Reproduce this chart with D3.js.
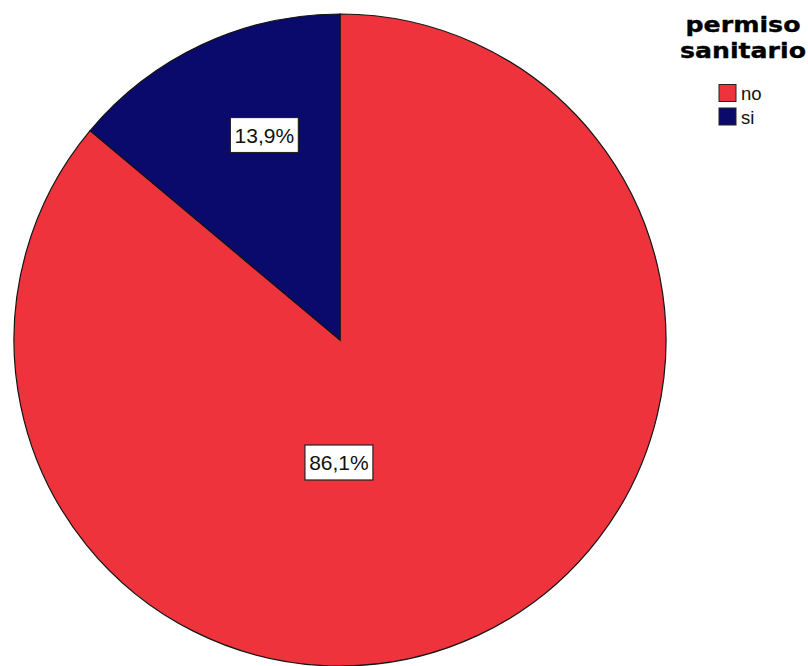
<!DOCTYPE html>
<html>
<head>
<meta charset="utf-8">
<script src="https://cdn.jsdelivr.net/npm/d3@7"></script>
<style>
  html, body { margin: 0; padding: 0; background: #ffffff; }
  svg { display: block; }
</style>
</head>
<body>
<svg id="chart" width="808" height="666"></svg>
<script>
// permiso sanitario: share of respondents
const categories = ["no", "si"];
const percents = [86.1, 13.9];
const sliceColors = ["#EF333D", "#0A0A6C"];
const legendTitle = ["permiso", "sanitario"];

const svg = d3.select("#chart");
const cx = 340, cy = 340, radius = 326;

const color = d3.scaleOrdinal().domain(categories).range(sliceColors);

const pie = d3.pie().sort(null).value(d => d.value);
const arcs = pie(categories.map((c, i) => ({ cat: c, value: percents[i] })));
const arc = d3.arc().innerRadius(0).outerRadius(radius);

const g = svg.append("g").attr("transform", `translate(${cx},${cy})`);

g.selectAll("path.slice")
  .data(arcs)
  .enter().append("path")
  .attr("class", "slice")
  .attr("d", arc)
  .attr("fill", d => color(d.data.cat))
  .attr("stroke", "#141414")
  .attr("stroke-width", 1.2);

// label placement per slice: angle (deg, clockwise from top) and distance from centre
const labelPlacement = { no: { angle: 180.5, dist: 123 }, si: { angle: -20.3, dist: 218 } };
const fmt = v => v.toFixed(1).replace(".", ",") + "%";

const labels = g.selectAll("g.lbl")
  .data(arcs)
  .enter().append("g")
  .attr("class", "lbl")
  .attr("transform", d => {
    const p = labelPlacement[d.data.cat];
    const a = p.angle * Math.PI / 180;
    return `translate(${p.dist * Math.sin(a)},${-p.dist * Math.cos(a)})`;
  });

labels.append("rect")
  .attr("x", -34).attr("y", -18)
  .attr("width", 68).attr("height", 35)
  .attr("fill", "#ffffff")
  .attr("stroke", "#222222")
  .attr("stroke-width", 1.2);

labels.append("text")
  .attr("text-anchor", "middle")
  .attr("y", 7.5)
  .attr("font-family", "'Liberation Sans', Arial, sans-serif")
  .attr("font-size", 21)
  .attr("fill", "#111111")
  .text(d => fmt(d.data.value));

// legend
const legend = svg.append("g");
const titleWidths = [115, 126];
legend.selectAll("text.title")
  .data(legendTitle)
  .enter().append("text")
  .attr("class", "title")
  .attr("x", 743)
  .attr("y", (d, i) => 32 + i * 25.5)
  .attr("text-anchor", "middle")
  .attr("font-family", "'DejaVu Sans', sans-serif")
  .attr("font-weight", "bold")
  .attr("font-size", 22)
  .attr("textLength", (d, i) => titleWidths[i])
  .attr("lengthAdjust", "spacingAndGlyphs")
  .attr("fill", "#000000")
  .attr("stroke", "#000000")
  .attr("stroke-width", 0.35)
  .text(d => d);

const items = legend.selectAll("g.item")
  .data(categories)
  .enter().append("g")
  .attr("class", "item")
  .attr("transform", (d, i) => `translate(719,${84.5 + i * 23.5})`);

items.append("rect")
  .attr("width", 17).attr("height", 17)
  .attr("fill", d => color(d))
  .attr("stroke", "#222222")
  .attr("stroke-width", 1);

items.append("text")
  .attr("x", 22)
  .attr("y", 15.5)
  .attr("font-family", "'Liberation Sans', Arial, sans-serif")
  .attr("font-size", 18.5)
  .attr("fill", "#111111")
  .text(d => d);
</script>
</body>
</html>
